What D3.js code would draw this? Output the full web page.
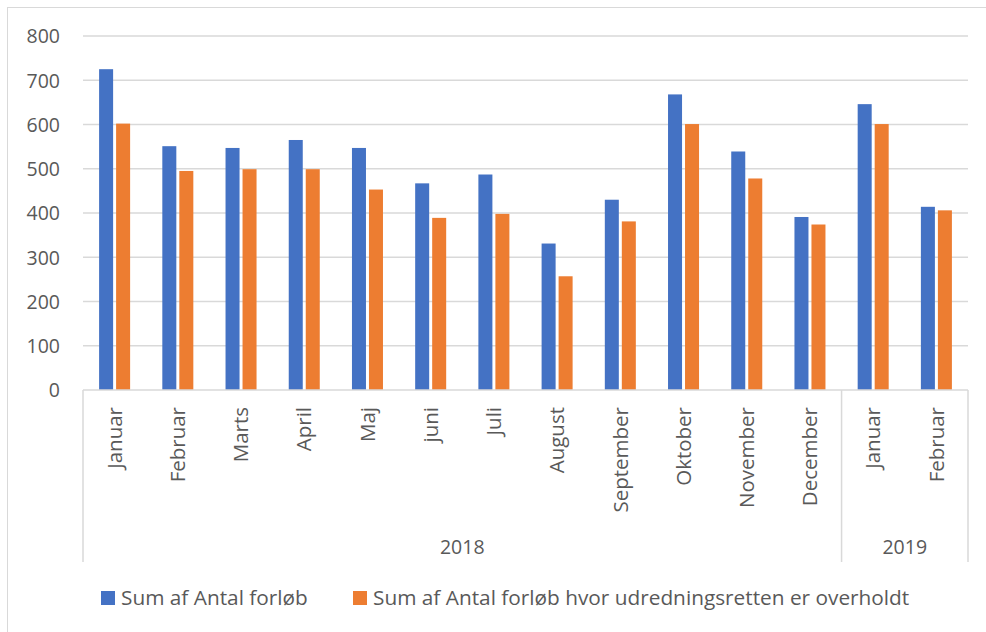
<!DOCTYPE html>
<html><head><meta charset="utf-8">
<script src="https://cdn.jsdelivr.net/npm/d3@7"></script>
<style>
body{margin:0;background:#fff;}
text{font-family:"Open Sans","Noto Sans",sans-serif;fill:#595959;}
</style></head>
<body><svg id="c" width="986" height="632"></svg>
<script>
const months = ["Januar","Februar","Marts","April","Maj","juni","Juli","August","September","Oktober","November","December","Januar","Februar"];
const years = [{label:"2018", from:0, to:12},{label:"2019", from:12, to:14}];
const seriesNames = ["Sum af Antal forløb","Sum af Antal forløb hvor udredningsretten er overholdt"];
const antal = [725,551,547,565,547,467,487,331,430,668,539,391,646,414];
const overholdt = [602,495,499,499,453,389,398,257,381,601,478,374,601,406];
const yTicks = [0,100,200,300,400,500,600,700,800];
const colors = ["#4472C4","#ED7D31"];

const svg = d3.select("#c");
const L=83, R=968, T=36, B=390;
svg.append("rect").attr("x",7.5).attr("y",7.5).attr("width",990).attr("height",640)
  .attr("fill","none").attr("stroke","#d9d9d9").attr("stroke-width",1);

const y = d3.scaleLinear().domain([0,800]).range([B,T]);
const x0 = d3.scaleBand().domain(d3.range(months.length)).range([L,R]).padding(0);
const x1 = d3.scaleBand().domain([0,1]).range([0,x0.bandwidth()]).paddingInner(0.176).paddingOuter(0.947);

// gridlines
svg.append("g").selectAll("line").data(yTicks.filter(d=>d>0)).join("line")
  .attr("x1",L).attr("x2",R).attr("y1",d=>y(d)).attr("y2",d=>y(d))
  .attr("stroke","#d9d9d9").attr("stroke-width",1.5);

// y axis labels
const yAxis = d3.axisLeft(y).tickValues(yTicks).tickSize(0).tickPadding(23);
const ya = svg.append("g").attr("transform",`translate(${L},0)`).call(yAxis);
ya.select(".domain").remove();
ya.selectAll("text").style("font-size","19.5px").attr("fill","#595959").attr("dy","0.35em");

// bars
const data = months.map((m,i)=>({i, v:[antal[i], overholdt[i]]}));
const g = svg.append("g").selectAll("g").data(data).join("g")
  .attr("transform",d=>`translate(${x0(d.i)},0)`);
g.selectAll("rect").data(d=>d.v.map((v,k)=>({v,k}))).join("rect")
  .attr("x",d=>x1(d.k)).attr("width",x1.bandwidth())
  .attr("y",d=>y(d.v)).attr("height",d=>B-y(d.v))
  .attr("fill",d=>colors[d.k]);

// x axis line
svg.append("line").attr("x1",L).attr("x2",R).attr("y1",B).attr("y2",B)
  .attr("stroke","#d9d9d9").attr("stroke-width",1.5);

// group separators
const sepX = [L, x0(12), R];
svg.append("g").selectAll("line").data(sepX).join("line")
  .attr("x1",d=>d).attr("x2",d=>d).attr("y1",B).attr("y2",562)
  .attr("stroke","#d9d9d9").attr("stroke-width",1.5);

// month labels
svg.append("g").selectAll("text").data(months.map((m,i)=>({m,i}))).join("text")
  .attr("transform",d=>`translate(${x0(d.i)+x0.bandwidth()/2},407) rotate(-90)`)
  .attr("dy","0.35em")
  .attr("text-anchor","end").style("font-size","20.5px").text(d=>d.m);

// year labels
svg.append("g").selectAll("text").data(years).join("text")
  .attr("x",d=>(x0(d.from) + (d.to<months.length? x0(d.to): R))/2)
  .attr("y",554).attr("text-anchor","middle").style("font-size","19.5px").text(d=>d.label);

// legend
const leg = [{x:101},{x:353}];
const lg = svg.append("g").selectAll("g").data(seriesNames).join("g")
  .attr("transform",(d,i)=>`translate(${leg[i].x},591)`);
lg.append("rect").attr("width",14).attr("height",14).attr("fill",(d,i)=>colors[i]);
lg.append("text").attr("x",20).attr("y",14).style("font-size","20.8px").text(d=>d);
</script></body></html>
